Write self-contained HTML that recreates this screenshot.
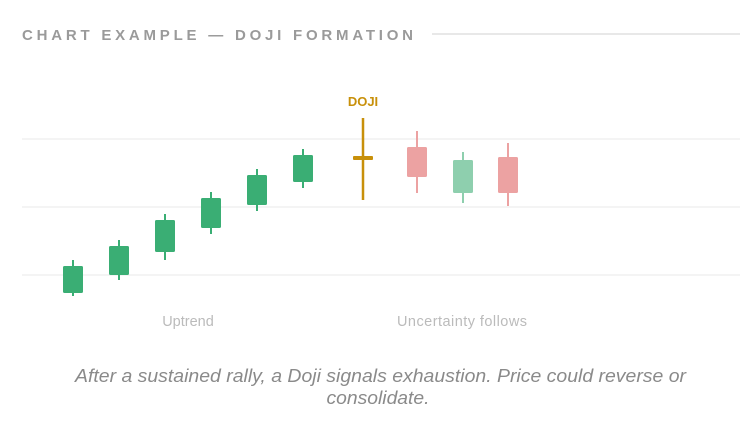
<!DOCTYPE html>
<html><head><meta charset="utf-8"><style>
html,body{margin:0;padding:0;background:#fff;width:756px;height:436px;overflow:hidden;font-family:"Liberation Sans",sans-serif}
</style></head><body>
<svg width="756" height="436" xmlns="http://www.w3.org/2000/svg" style="position:absolute;left:0;top:0">
<text x="22" y="40" font-size="15" font-weight="bold" fill="#9a9a9a" textLength="391" lengthAdjust="spacing">CHART EXAMPLE — DOJI FORMATION</text>
<line x1="432" y1="34" x2="740" y2="34" stroke="#e8e8e8" stroke-width="2"/>
<g stroke="#f0f0f0" stroke-width="1.5">
<line x1="22" y1="139" x2="740" y2="139"/><line x1="22" y1="207" x2="740" y2="207"/><line x1="22" y1="275" x2="740" y2="275"/>
</g>
<g fill="#3aae74" stroke="#3aae74">
<line x1="73" y1="260" x2="73" y2="296" stroke-width="2"/><rect x="63" y="266" width="20" height="27" rx="1.5" stroke="none"/>
<line x1="119" y1="240" x2="119" y2="280" stroke-width="2"/><rect x="109" y="246" width="20" height="29" rx="1.5" stroke="none"/>
<line x1="165" y1="214" x2="165" y2="260" stroke-width="2"/><rect x="155" y="220" width="20" height="32" rx="1.5" stroke="none"/>
<line x1="211" y1="192" x2="211" y2="234" stroke-width="2"/><rect x="201" y="198" width="20" height="30" rx="1.5" stroke="none"/>
<line x1="257" y1="169" x2="257" y2="211" stroke-width="2"/><rect x="247" y="175" width="20" height="30" rx="1.5" stroke="none"/>
<line x1="303" y1="149" x2="303" y2="188" stroke-width="2"/><rect x="293" y="155" width="20" height="27" rx="1.5" stroke="none"/>
</g>
<text x="363" y="106" font-size="13" font-weight="bold" fill="#c8900a" text-anchor="middle">DOJI</text>
<line x1="363" y1="118" x2="363" y2="200" stroke="#c8900a" stroke-width="2.5"/>
<rect x="353" y="156" width="20" height="4" fill="#c8900a" rx="1"/>
<g stroke-width="2">
<line x1="417" y1="131" x2="417" y2="193" stroke="#eca2a2"/><rect x="407" y="147" width="20" height="30" rx="1.5" fill="#eca2a2"/>
<line x1="463" y1="152" x2="463" y2="203" stroke="#8ecfae"/><rect x="453" y="160" width="20" height="33" rx="1.5" fill="#8ecfae"/>
<line x1="508" y1="143" x2="508" y2="206" stroke="#eca2a2"/><rect x="498" y="157" width="20" height="36" rx="1.5" fill="#eca2a2"/>
</g>
<text x="188" y="326" font-size="14.5" fill="#bbbbbb" text-anchor="middle">Uptrend</text>
<text x="462" y="326" font-size="14.5" fill="#bbbbbb" text-anchor="middle" textLength="130">Uncertainty follows</text>
<text x="75" y="382" font-size="18" font-style="italic" fill="#8a8a8a" textLength="611" lengthAdjust="spacingAndGlyphs">After a sustained rally, a Doji signals exhaustion. Price could reverse or</text>
<text x="378" y="404" font-size="18" font-style="italic" fill="#8a8a8a" text-anchor="middle" textLength="103" lengthAdjust="spacingAndGlyphs">consolidate.</text>
</svg>
</body></html>
